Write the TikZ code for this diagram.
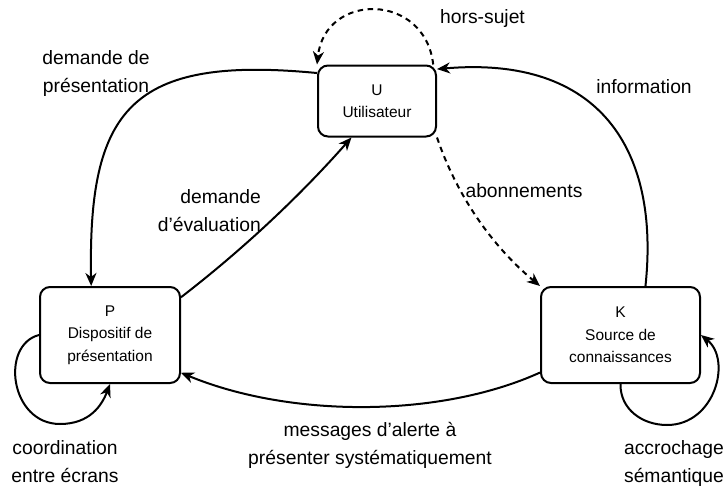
\documentclass[tikz,border=0pt]{standalone}
\usepackage{fontspec}
\setmainfont{Liberation Sans}
\usetikzlibrary{arrows.meta}

\begin{document}
\begin{tikzpicture}[x=1pt, y=-1pt,
  state/.style={draw, line width=2pt, rounded corners=10pt, align=center,
    inner sep=0pt, font=\fontsize{15.5}{22.5}\selectfont},
  lbl/.style={inner sep=0pt, align=center, font=\fontsize{19.3}{28}\selectfont},
  flow/.style={line width=2pt, -{Stealth[length=13pt, width=11pt, inset=4pt]}},
  dflow/.style={flow, dash pattern=on 5.5pt off 4.5pt}
]
\useasboundingbox (0,0) rectangle (726,488);

% actors
\node[state, minimum width=118pt, minimum height=71pt] (U) at (377,101) {U\\Utilisateur};
\node[state, minimum width=140pt, minimum height=96pt] (P) at (110,335) {P\\Dispositif de\\présentation};
\node[state, minimum width=159pt, minimum height=96pt] (K) at (620.5,335) {K\\Source de\\connaissances};

% exchanges between actors
\draw[flow] (U.155) .. controls (130,55) and (88,110) .. (P.111);
\draw[flow] (P.28) .. controls (241,251) and (298,198) .. (U.235);
\draw[flow] (K.63) .. controls (660,150) and (600,55) .. (U.28);
\draw[dflow] (U.33) .. controls (425,-8) and (325,-8) .. (U.north west);
\draw[dflow] (U.south east) .. controls (457,196) and (492,246) .. (K.north west);
\draw[flow] (K.205) .. controls (440,418) and (290,418) .. (P.-28);

% self loops
\draw[flow] (P.west) .. controls (0,345) and (10,424) .. (60,424)
  .. controls (90,424) and (102,405) .. (P.south);
\draw[flow] (K.south) .. controls (620,409) and (642,425) .. (667,425)
  .. controls (715,425) and (732,360) .. (K.east);

% labels
\node[lbl] (l1) at (96,74) {demande de\\présentation};
\node[lbl, anchor=east, align=right] (l2) at (261,211) {demande\\d’évaluation};
\node[lbl] (l3) at (482.5,19) {hors-sujet};
\node[lbl] (l4) at (644,87) {information};
\node[lbl] (l5) at (524,191) {abonnements};
\node[lbl] (l6) at (370,445.5) {messages d’alerte à\\présenter systématiquement};
\node[lbl] (l7) at (65,461.5) {coordination\\entre écrans};
\node[lbl] (l8) at (674,463.5) {accrochage\\sémantique};
\end{tikzpicture}
\end{document}
